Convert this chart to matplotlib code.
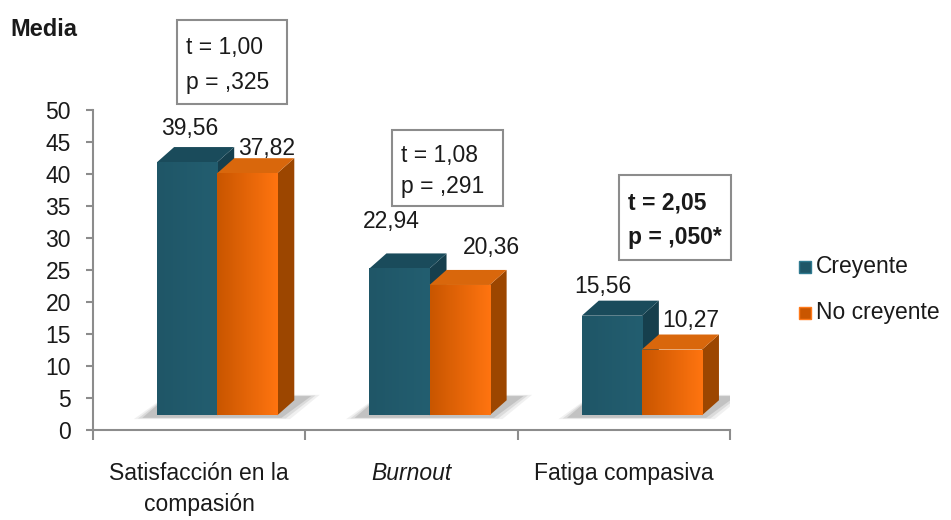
import numpy as np
import matplotlib
matplotlib.use("Agg")
import matplotlib.pyplot as plt
from matplotlib.patches import Rectangle, Polygon
from matplotlib.colors import LinearSegmentedColormap

plt.rcParams['font.family'] = ['Liberation Sans', 'DejaVu Sans']

# ---- data ----
categories = ["Satisfacción en la\ncompasión", "Burnout", "Fatiga compasiva"]
italic_cat = [False, True, False]
creyente = [39.56, 22.94, 15.56]
no_creyente = [37.82, 20.36, 10.27]
t_labels = ["t = 1,00", "t = 1,08", "t = 2,05"]
p_labels = ["p = ,325", "p = ,291", "p = ,050*"]
significant = [False, False, True]
series_names = ["Creyente", "No creyente"]
yticks = [0, 5, 10, 15, 20, 25, 30, 35, 40, 45, 50]

# ---- styling / geometry ----
W, H = 951, 520
FS = 16.5
fig = plt.figure(figsize=(W / 100, H / 100), dpi=100)
ax = fig.add_axes([93 / W, 1 - 430 / H, (730 - 93) / W, (430 - 110) / H])

bar_w = 0.283
shift = 0.085
base = 2.3          # floor height of the pseudo-3D bars
ddx, ddy = 0.08, 2.35   # depth offset of top/side faces

teal = dict(front=("#1f5667", "#235e70"), top="#1a4b5b", side="#163f4d")
orange = dict(front=("#c95600", "#ff7410"), top="#d9670c", side="#9c4600")


def gradient_face(x0, y0, w, h, c0, c1, z):
    rect = Rectangle((x0, y0), w, h, facecolor="none", edgecolor="none", zorder=z)
    ax.add_patch(rect)
    cmap = LinearSegmentedColormap.from_list("g", [c0, c1])
    grad = np.linspace(0, 1, 64).reshape(1, -1)
    im = ax.imshow(grad, cmap=cmap, extent=(x0, x0 + w, y0, y0 + h),
                   aspect="auto", zorder=z, interpolation="bilinear")
    im.set_clip_path(rect)


def bar3d(x0, val, style, z):
    top = base + val
    x1 = x0 + bar_w
    side = Polygon([(x1, base), (x1 + ddx, base + ddy), (x1 + ddx, top + ddy), (x1, top)],
                   closed=True, facecolor=style["side"], edgecolor="none", zorder=z)
    ax.add_patch(side)
    topf = Polygon([(x0, top), (x1, top), (x1 + ddx, top + ddy), (x0 + ddx, top + ddy)],
                   closed=True, facecolor=style["top"], edgecolor="none", zorder=z)
    ax.add_patch(topf)
    gradient_face(x0, base, bar_w, val, style["front"][0], style["front"][1], z + 0.1)


def floor_shadow(xl, xr):
    # soft drop shadow on the floor, built from stacked translucent layers
    for grow, alpha in [(0.04, 0.12), (0.02, 0.2), (0.0, 0.3)]:
        pts = [(xl - 0.07 - grow, base - 0.4 - grow * 5),
               (xr + 0.02 + grow, base - 0.4 - grow * 5),
               (xr + 0.16 + grow, base + 3.0 + grow * 5),
               (xl + 0.05, base + 3.0 + grow * 5)]
        ax.add_patch(Polygon(pts, closed=True, facecolor="#8a8a8a", alpha=alpha,
                             edgecolor="none", zorder=1))


label_dx = [[0.01, 0.09], [-0.04, 0.15], [-0.04, 0.09]]
label_dy = [[7.6, 6.2], [9.7, 8.1], [6.8, 6.8]]

for i in range(len(categories)):
    xc = i + 0.5 + shift
    xl = xc - bar_w
    floor_shadow(xl, xc + bar_w)
    bar3d(xl, creyente[i], teal, 2)
    bar3d(xc, no_creyente[i], orange, 3)
    ax.text(xl + bar_w / 2 + label_dx[i][0], creyente[i] + label_dy[i][0],
            f"{creyente[i]:.2f}".replace(".", ","), ha="center", va="center",
            fontsize=FS, color="#1a1a1a", zorder=5, clip_on=False)
    ax.text(xc + bar_w / 2 + label_dx[i][1], no_creyente[i] + label_dy[i][1],
            f"{no_creyente[i]:.2f}".replace(".", ","), ha="center", va="center",
            fontsize=FS, color="#1a1a1a", zorder=5, clip_on=False)

ax.set_xlim(0, 3)
ax.set_ylim(0, 50)

for s in ["top", "right"]:
    ax.spines[s].set_visible(False)
for s in ["left", "bottom"]:
    ax.spines[s].set_color("#8c8c8c")
    ax.spines[s].set_linewidth(1.5)
ax.set_yticks(yticks)
ax.set_yticklabels([str(v) for v in yticks], fontsize=FS, color="#1a1a1a")
ax.tick_params(axis="y", length=5, width=1.5, color="#8c8c8c", pad=11)
ax.set_xticks([0, 1, 2, 3])
ax.set_xticklabels([])
ax.tick_params(axis="x", length=7, width=1.5, color="#8c8c8c", direction="out")

for i, cat in enumerate(categories):
    ax.text(i + 0.5, -5.0, cat, ha="center", va="top", fontsize=FS,
            style="italic" if italic_cat[i] else "normal", color="#1a1a1a",
            linespacing=1.42, clip_on=False)

# y-axis title
fig.text(10 / W, 1 - 30 / H, "Media", fontsize=17, fontweight="bold",
         ha="left", va="center", color="#1a1a1a")

# t-test boxes
boxes = [(177, 20, 110, 84), (392, 130, 111, 76), (619, 175, 112, 85)]
for (bx, by, bw, bh), tl, pl, sig in zip(boxes, t_labels, p_labels, significant):
    fig.patches.append(Rectangle((bx / W, 1 - (by + bh) / H), bw / W, bh / H,
                                 transform=fig.transFigure, facecolor="white",
                                 edgecolor="#8c8c8c", linewidth=1.5))
    fw = "bold" if sig else "normal"
    fig.text((bx + 9) / W, 1 - (by + bh * 0.33) / H, tl, fontsize=FS,
             fontweight=fw, ha="left", va="center", color="#1a1a1a")
    fig.text((bx + 9) / W, 1 - (by + bh * 0.74) / H, pl, fontsize=FS,
             fontweight=fw, ha="left", va="center", color="#1a1a1a")

# legend
leg_y = [267, 313]
leg_c = [("#1f5667", "#2f7a90"), ("#c95600", "#ff7a1a")]
for yy, name, (c0, c1) in zip(leg_y, series_names, leg_c):
    fig.patches.append(Rectangle((799 / W, 1 - (yy + 6) / H), 12 / W, 12 / H,
                                 transform=fig.transFigure, facecolor=c0,
                                 edgecolor=c1, linewidth=1))
    fig.text(816 / W, 1 - yy / H, name, fontsize=FS, ha="left", va="center",
             color="#1a1a1a")

fig.savefig("out.png", dpi=100, facecolor="white")
